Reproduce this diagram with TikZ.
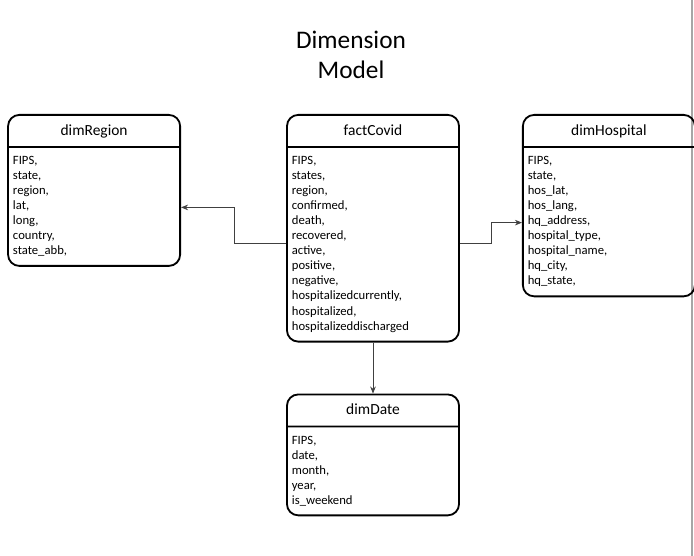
\documentclass[tikz,border=0pt]{standalone}
\usepackage{fontspec}
\setmainfont{Carlito}
\usetikzlibrary{arrows.meta,positioning,shapes.multipart,calc}
\newcommand\entityname[1]{{\fontsize{11}{13}\selectfont\vphantom{Hg}#1}}

\begin{document}
\begin{tikzpicture}[x=0.025cm,y=-0.025cm,
       entity/.style={
         rectangle split,
         rectangle split parts=2,
         rectangle split part align={center,left},
         draw=black,
         line width=1.3pt,
         rounded corners=8pt,
         minimum width=4.3cm,
         inner xsep=3.5pt,
         inner ysep=6pt,
         align=left,
         font=\fontsize{9}{10.7}\selectfont},
       heading/.style={align=center, font=\fontsize{18}{21.5}\selectfont},
       link/.style={-{Stealth[length=5pt,width=4pt]}, draw=black!75, line width=0.6pt},
       canvasedge/.style={draw=black!35, line width=0.8pt}
      ]
      \useasboundingbox (0,0) rectangle (694,556);
      \draw[canvasedge] (692,0) -- (692,556);

      \node[heading] (title) at (351,55) {Dimension\\Model};

      \node[entity, anchor=north] (factCovid) at (373,114) {\entityname{factCovid}
        \nodepart{second} FIPS,\\ states,\\ region,\\ confirmed,\\ death,\\ recovered,\\ active,\\ positive,\\ negative,\\ hospitalizedcurrently,\\ hospitalized,\\ hospitalizeddischarged};
      \node[entity, left=2.625cm of factCovid.north west, anchor=north east] (dimRegion) {\entityname{dimRegion}
        \nodepart{second} FIPS,\\ state,\\ region,\\ lat,\\ long,\\ country,\\ state\_abb,};
      \node[entity, right=1.55cm of factCovid.north east, anchor=north west] (dimHospital) {\entityname{dimHospital}
        \nodepart{second} FIPS,\\ state,\\ hos\_lat,\\ hos\_lang,\\ hq\_address,\\ hospital\_type,\\ hospital\_name,\\ hq\_city,\\ hq\_state,};
      \node[entity, minimum height=3.2cm, below=1.275cm of factCovid] (dimDate) {\entityname{dimDate}
        \nodepart{second} FIPS,\\ date,\\ month,\\ year,\\ is\_weekend};

      \draw[link] ($(factCovid.west)+(0,15)$) -| ($(dimRegion.east)+(53,17)$) -- ($(dimRegion.east)+(0,17)$);
      \draw[link] ($(factCovid.east)+(0,15)$) -| ($(dimHospital.west)+(-31,17)$) -- ($(dimHospital.west)+(0,17)$);
      \draw[link] (factCovid.south) -- (dimDate.north);

\end{tikzpicture}
\end{document}
